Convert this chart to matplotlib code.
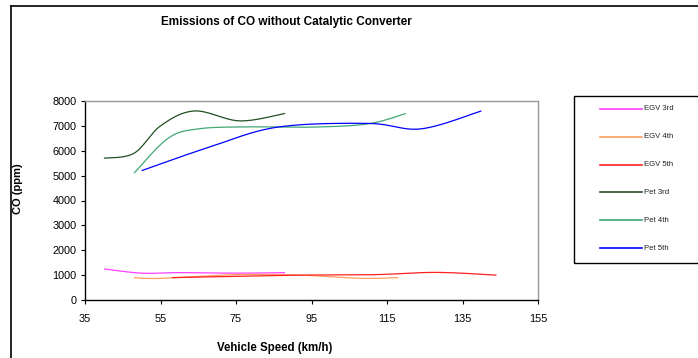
import numpy as np
import matplotlib
matplotlib.use("Agg")
import matplotlib.pyplot as plt
from matplotlib.lines import Line2D
from matplotlib.patches import Rectangle

plt.rcParams['font.family'] = ['Liberation Sans', 'DejaVu Sans']

# Vehicle speed (km/h) and CO (ppm) for each fuel / gear combination
egv3_speed = [40, 50, 60, 75, 88]
egv3_co = [1250, 1080, 1100, 1080, 1100]

egv4_speed = [48, 55, 75, 92, 108, 118]
egv4_co = [900, 870, 1020, 1000, 870, 900]

egv5_speed = [58, 74, 92, 112, 128, 144]
egv5_co = [900, 950, 1000, 1020, 1110, 1000]

pet3_speed = [40, 48, 55, 64, 76, 88]
pet3_co = [5700, 5900, 7000, 7600, 7200, 7500]

pet4_speed = [48, 57, 65, 78, 95, 110, 120]
pet4_co = [5100, 6500, 6880, 6960, 6950, 7080, 7500]

pet5_speed = [50, 68, 86, 110, 124, 140]
pet5_co = [5200, 6150, 6950, 7100, 6880, 7600]

labels = ['EGV 3rd', 'EGV 4th', 'EGV 5th', 'Pet 3rd', 'Pet 4th', 'Pet 5th']
colors = ['#FF40FF', '#FF9F5F', '#FF2020', '#224F22', '#3FA874', '#0000FF']

x_ticks = [35, 55, 75, 95, 115, 135, 155]
y_ticks = [0, 1000, 2000, 3000, 4000, 5000, 6000, 7000, 8000]


def smooth(xs, ys, n=30):
    """Smoothed curve through the points (Catmull-Rom style Bezier segments)."""
    p = np.column_stack([xs, ys]).astype(float)
    out = [p[0]]
    t = np.linspace(0, 1, n)[1:, None]
    for i in range(len(p) - 1):
        p0 = p[i - 1] if i > 0 else p[i]
        p3 = p[i + 2] if i + 2 < len(p) else p[i + 1]
        p1, p2 = p[i], p[i + 1]
        c1 = p1 + (p2 - p0) / 6.0
        c2 = p2 - (p3 - p1) / 6.0
        seg = ((1 - t) ** 3) * p1 + 3 * ((1 - t) ** 2) * t * c1 \
            + 3 * (1 - t) * t ** 2 * c2 + t ** 3 * p2
        out.extend(seg)
    out = np.array(out)
    return out[:, 0], out[:, 1]


W, H = 698, 358
fig = plt.figure(figsize=(W / 100, H / 100), dpi=100)
fig.patch.set_facecolor('white')

ax = fig.add_axes([85 / W, 1 - 300 / H, (538 - 85) / W, (300 - 101) / H])

series = [
    (egv3_speed, egv3_co), (egv4_speed, egv4_co), (egv5_speed, egv5_co),
    (pet3_speed, pet3_co), (pet4_speed, pet4_co), (pet5_speed, pet5_co),
]
for (xs, ys), c, lab in zip(series, colors, labels):
    sx, sy = smooth(xs, ys)
    ax.plot(sx, sy, color=c, lw=0.9, label=lab, solid_capstyle='butt')

ax.set_xlim(35, 155)
ax.set_ylim(0, 8000)
ax.set_xticks(x_ticks)
ax.set_yticks(y_ticks)
ax.tick_params(direction='out', length=3, width=0.8, labelsize=7.8, pad=3,
               color='black')
ax.tick_params(axis='x', pad=7)
for s in ['top', 'right']:
    ax.spines[s].set_color('#999999')
    ax.spines[s].set_linewidth(1.0)
for s in ['left', 'bottom']:
    ax.spines[s].set_color('black')
    ax.spines[s].set_linewidth(1.0)

# Titles and axis labels
fig.text(286 / W, 1 - 22 / H, 'Emissions of CO without Catalytic Converter',
         ha='center', va='center', fontsize=8.5, fontweight='bold')
fig.text(275 / W, 1 - 348 / H, 'Vehicle Speed (km/h)',
         ha='center', va='center', fontsize=8.3, fontweight='bold')
fig.text(18 / W, 1 - 189 / H, 'CO (ppm)', rotation=90,
         ha='center', va='center', fontsize=8, fontweight='bold')

# Outer frame (left and top edges)
fig.add_artist(Line2D([11 / W, 11 / W], [0, 1 - 6 / H], color='black', lw=1.2))
fig.add_artist(Line2D([11 / W, 1], [1 - 6 / H, 1 - 6 / H], color='black', lw=1.2))

# Legend box
fig.add_artist(Rectangle((574 / W, 1 - 263 / H), (W + 5 - 574) / W, (263 - 96) / H,
                         transform=fig.transFigure, fill=False,
                         edgecolor='black', lw=1.0))
for i, (lab, c) in enumerate(zip(labels, colors)):
    yy = 1 - (109 + i * 27.8) / H
    fig.add_artist(Line2D([600 / W, 642 / W], [yy, yy], color=c, lw=1.2))
    fig.text(643.5 / W, yy, lab, ha='left', va='center', fontsize=5.6,
             color='#222222')

fig.savefig('out.png', dpi=100)
